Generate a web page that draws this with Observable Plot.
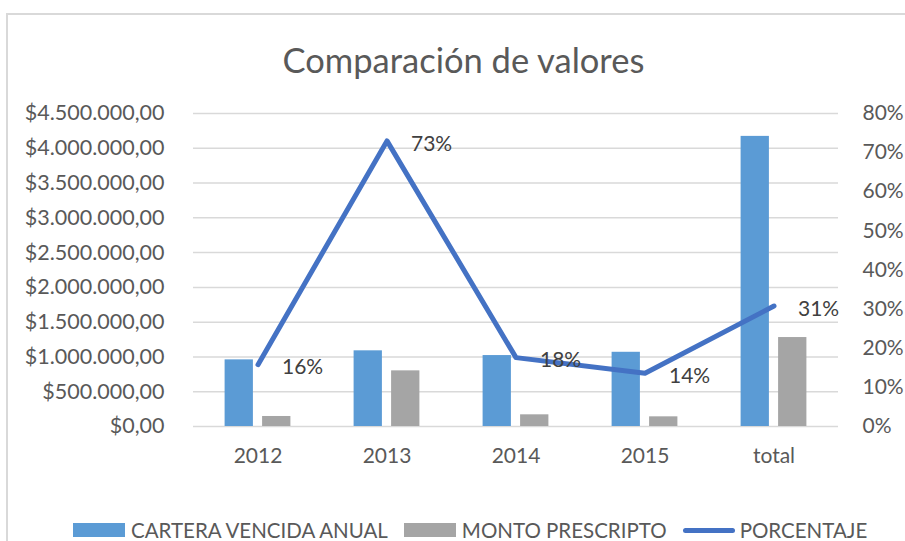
<!DOCTYPE html>
<html>
<head>
<meta charset="utf-8">
<script src="https://cdn.jsdelivr.net/npm/d3@7"></script>
<script src="https://cdn.jsdelivr.net/npm/@observablehq/plot@0.6"></script>
<style>
  html, body { margin: 0; padding: 0; background: #fff; }
  body { width: 905px; height: 541px; overflow: hidden; position: relative; font-family: Lato, "Open Sans", sans-serif; }
  #frame { position: absolute; left: 6px; top: 13px; width: 1000px; height: 700px; border: 2px solid #d9d9d9; box-sizing: border-box; }
  #title { position: absolute; left: 0; width: 927px; top: 38px; line-height: 44px; text-align: center; font-size: 34.5px; color: #595959; }
  #chart { position: absolute; left: 0; top: 95px; }
  #legend { position: absolute; left: 73px; top: 518px; height: 24px; line-height: 24px; font-size: 20.5px; color: #595959; white-space: nowrap; display: flex; align-items: center; }
  .sw { display: inline-block; width: 52px; height: 14px; margin-right: 6px; }
  .ln { display: inline-block; width: 52px; height: 5px; border-radius: 3px; margin-right: 5px; }
  .item { display: inline-flex; align-items: center; margin-right: 16px; }
</style>
</head>
<body>
<div id="frame"></div>
<div id="title">Comparación de valores</div>
<div id="chart"></div>
<div id="legend"></div>
<script>
const categories = ["2012", "2013", "2014", "2015", "total"];
const cartera = [958000, 1088000, 1020000, 1067000, 4171000];
const monto = [144000, 800000, 168000, 139000, 1279000];
const porcentaje = [0.158, 0.73, 0.176, 0.136, 0.308];
const leftTicks = [0, 500000, 1000000, 1500000, 2000000, 2500000, 3000000, 3500000, 4000000, 4500000];
const rightTicks = [0, 0.1, 0.2, 0.3, 0.4, 0.5, 0.6, 0.7, 0.8];
const seriesNames = ["CARTERA VENCIDA ANUAL", "MONTO PRESCRIPTO", "PORCENTAJE"];
const colors = ["#5b9bd5", "#a5a5a5", "#4472c4"];

const yMax = 4500000, pMax = 0.8;
const toY = p => p / pMax * yMax;

const locale = d3.formatLocale({decimal: ",", thousands: ".", grouping: [3], currency: ["$", ""]});
const money = locale.format("$,.2f");
const pct = d3.format(".0%");

const rows = categories.map((c, i) => ({cat: c, cartera: cartera[i], monto: monto[i], pct: porcentaje[i], py: toY(porcentaje[i])}));

const chart = Plot.plot({
  width: 905,
  height: 400,
  marginTop: 18,
  marginBottom: 69,
  marginLeft: 193,
  marginRight: 67,
  style: {fontFamily: "Lato, 'Open Sans', sans-serif", fontSize: "21px", color: "#595959", background: "transparent", overflow: "visible"},
  x: {type: "band", domain: categories, padding: 0, axis: null},
  y: {domain: [0, yMax], axis: null},
  marks: [
    Plot.gridY(leftTicks, {stroke: "#d9d9d9", strokeOpacity: 1, strokeWidth: 1.5}),
    Plot.axisY(leftTicks, {anchor: "left", tickSize: 0, tickPadding: 29, tickFormat: money, label: null, fontSize: 21.5, fill: "#595959"}),
    Plot.axisY(rightTicks.map(toY), {anchor: "right", tickSize: 0, tickPadding: 24, tickFormat: d => pct(d / yMax * pMax), label: null, fontSize: 21, fill: "#595959"}),
    Plot.axisX({tickSize: 0, tickPadding: 22, label: null, fontSize: 21, fill: "#595959"}),
    Plot.barY(rows, {x: "cat", y: "cartera", fill: colors[0], insetLeft: 31.6, insetRight: 69.1}),
    Plot.barY(rows, {x: "cat", y: "monto", fill: colors[1], insetLeft: 69.1, insetRight: 31.6}),
    Plot.line(rows, {x: "cat", y: "py", stroke: colors[2], strokeWidth: 5, strokeLinecap: "round", strokeLinejoin: "round"}),
    Plot.text(rows, {x: "cat", y: "py", text: d => pct(d.pct), textAnchor: "start", dx: 24, dy: 3, fontSize: 21, fill: "#404040"})
  ]
});
document.getElementById("chart").appendChild(chart);

const legend = document.getElementById("legend");
seriesNames.forEach((name, i) => {
  const item = document.createElement("span");
  item.className = "item";
  const sw = document.createElement("span");
  sw.className = i < 2 ? "sw" : "ln";
  sw.style.background = colors[i];
  item.appendChild(sw);
  item.appendChild(document.createTextNode(name));
  legend.appendChild(item);
});
</script>
</body>
</html>
